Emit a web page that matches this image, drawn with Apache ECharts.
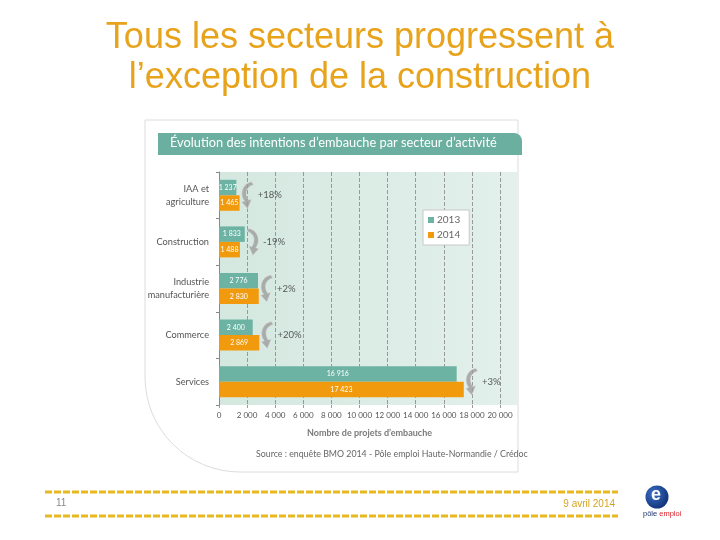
<!DOCTYPE html>
<html><head><meta charset="utf-8">
<script src="https://cdn.jsdelivr.net/npm/echarts@6/dist/echarts.min.js"></script>
<style>html,body{margin:0;padding:0;background:#fff}#c{width:720px;height:540px}</style>
</head><body><div id="c"></div>
<script>
const categories = ['IAA et\nagriculture', 'Construction', 'Industrie\nmanufacturière', 'Commerce', 'Services'];
const values2013 = [1237, 1833, 2776, 2400, 16916];
const values2014 = [1465, 1488, 2830, 2869, 17423];
const changes = ['+18%', '-19%', '+2%', '+20%', '+3%'];
const xTicks = [0, 2000, 4000, 6000, 8000, 10000, 12000, 14000, 16000, 18000, 20000];

const fmt = v => String(v).replace(/\B(?=(\d{3})+(?!\d))/g, ' ');
const arrowR = 'path://M2,0 C12,2 14,14 9,20 L12,21 L6,28 L2,18 L5,19 C9,13 8,5 0,3 Z';
const arrowL = 'path://M12,0 C2,2 0,14 5,20 L2,21 L8,28 L12,18 L9,19 C5,13 6,5 14,3 Z';
const arrowData = categories.map((c, i) => ({
  value: [Math.max(values2013[i], values2014[i]), i],
  symbol: values2014[i] >= values2013[i] ? arrowL : arrowR,
  label: { formatter: changes[i] }
}));

const chart = echarts.init(document.getElementById('c'));
chart.setOption({
  animation: false,
  title: {
    text: 'Tous les secteurs progressent à\nl’exception de la construction',
    left: 'center', top: 13,
    textStyle: { fontFamily: 'Liberation Sans', fontSize: 36, fontWeight: 'normal', color: '#E8A31C', lineHeight: 40 }
  },
  graphic: [
    { type: 'rect', z: -10, shape: { x: 145, y: 120, width: 373, height: 352, r: [0, 0, 0, 95] },
      style: { fill: '#fff', stroke: '#dcdcdc', lineWidth: 1 } },
    { type: 'rect', z: -9, shape: { x: 158, y: 133, width: 364, height: 22, r: [0, 8, 0, 0] },
      style: { fill: '#6aaf9f' } },
    { type: 'text', z: -8, left: 170, top: 136,
      style: { text: 'Évolution des intentions d’embauche par secteur d’activité', fill: '#fff', font: '12.8px Lato' } },
    { type: 'rect', z: -9, shape: { x: 219, y: 172, width: 299, height: 233 },
      style: { fill: new echarts.graphic.LinearGradient(0, 0, 1, 0, [{ offset: 0, color: '#d4e8e0' }, { offset: 1, color: '#e3f0eb' }]) } },
    { type: 'text', left: 307, top: 429, style: { text: 'Nombre de projets d’embauche', fill: '#7a7a7a', font: 'bold 9px Lato' } },
    { type: 'text', left: 256, top: 450, style: { text: 'Source : enquête BMO 2014 - Pôle emploi Haute-Normandie / Crédoc', fill: '#666', font: '8.8px Lato' } },
    { type: 'line', shape: { x1: 45, y1: 492, x2: 618, y2: 492 }, style: { stroke: '#E8B820', lineWidth: 3, lineDash: [7, 2] } },
    { type: 'line', shape: { x1: 45, y1: 516, x2: 618, y2: 516 }, style: { stroke: '#E8B820', lineWidth: 3, lineDash: [7, 2] } },
    { type: 'text', left: 56, top: 498, style: { text: '11', fill: '#8a8a8a', font: '10px "Liberation Sans"' } },
    { type: 'text', right: 105, top: 499, style: { text: '9 avril 2014', fill: '#D4A520', font: '10px "Liberation Sans"' } },
    { type: 'circle', shape: { cx: 657, cy: 497, r: 11.5 },
      style: { fill: new echarts.graphic.RadialGradient(0.35, 0.35, 0.8, [{ offset: 0, color: '#3b6fc4' }, { offset: 1, color: '#0a2a6e' }]) } },
    { type: 'text', left: 651, top: 486, style: { text: 'e', fill: '#fff', font: 'bold 18px "Liberation Sans"' } },
    { type: 'text', left: 643, top: 510, style: { rich: { a: { fill: '#1a2f6e', font: '7.5px "Liberation Sans"' }, b: { fill: '#d9262e', font: '7.5px "Liberation Sans"' } }, text: '{a|pôle }{b|emploi}' } }
  ],
  legend: {
    data: ['2013', '2014'], orient: 'vertical', left: 423, top: 210,
    backgroundColor: '#fff', borderColor: '#c8c8c8', borderWidth: 1, padding: [5, 9, 5, 5],
    itemWidth: 6, itemHeight: 6, itemGap: 5, icon: 'rect',
    textStyle: { fontSize: 10, color: '#666', fontFamily: 'Lato', padding: [0, 0, 0, -2] }
  },
  grid: { left: 219, right: 220, top: 172, height: 233 },
  xAxis: {
    type: 'value', min: 0, max: 20000, interval: 2000,
    axisLine: { show: false },
    axisTick: { show: true, length: 3, lineStyle: { color: '#999' } },
    splitLine: { show: true, lineStyle: { type: 'dashed', color: '#999', width: 1 } },
    axisLabel: { fontSize: 8, color: '#555', fontFamily: 'Lato', margin: 6, hideOverlap: false, showMaxLabel: true, showMinLabel: true,
      formatter: v => xTicks.indexOf(v) >= 0 ? fmt(v) : '' }
  },
  yAxis: {
    type: 'category', data: categories, inverse: true,
    axisLine: { show: true, lineStyle: { color: '#888' } },
    axisTick: { show: true, length: 3, lineStyle: { color: '#888' } },
    axisLabel: { fontSize: 9.2, color: '#555', fontFamily: 'Lato', margin: 10, lineHeight: 13 }
  },
  series: [
    { name: '2013', type: 'bar', data: values2013, barWidth: 15.5, barGap: '0%', itemStyle: { color: '#6db3a3' },
      label: { show: true, position: 'inside', color: '#fff', fontSize: 7, fontFamily: 'Lato', formatter: p => fmt(p.value) } },
    { name: '2014', type: 'bar', data: values2014, barWidth: 15.5, itemStyle: { color: '#f29a0d' },
      label: { show: true, position: 'inside', color: '#fff', fontSize: 7, fontFamily: 'Lato', formatter: p => fmt(p.value) } },
    { name: 'évolution', type: 'scatter', data: arrowData, symbolSize: [12, 27], symbolOffset: [8, 0],
      itemStyle: { color: '#9c9c9c', borderColor: '#e0e0e0', borderWidth: 0.5 },
      label: { show: true, position: 'right', distance: 4, color: '#333', fontSize: 9.5, fontFamily: 'Lato' },
      z: 5 }
  ]
});
</script></body></html>
